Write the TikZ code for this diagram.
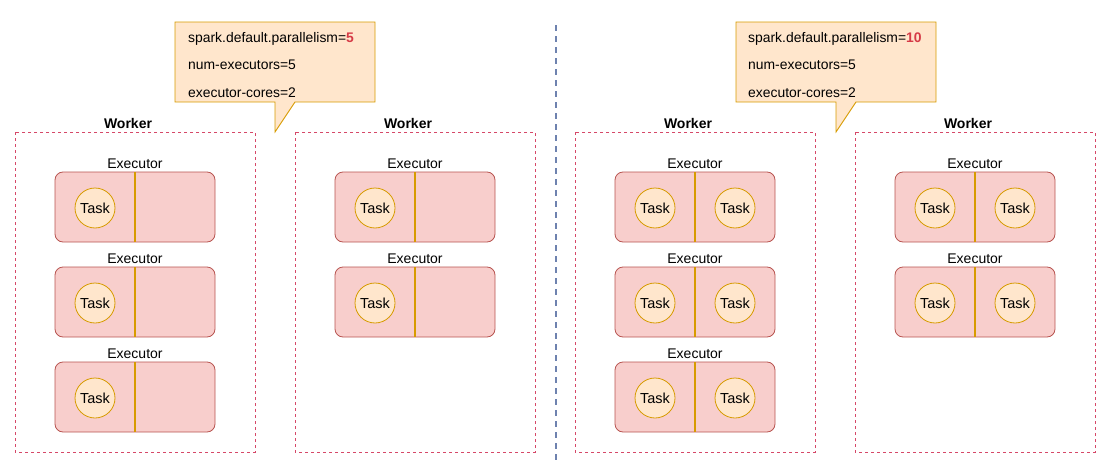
\documentclass[tikz,border=0pt]{standalone}
\usepackage{fontspec}
\setmainfont{Liberation Sans}
\definecolor{calloutfill}{HTML}{FFE6CC}
\definecolor{calloutdraw}{HTML}{D79B00}
\definecolor{execfill}{HTML}{F8CECC}
\definecolor{execdraw}{HTML}{B85450}
\definecolor{workerdraw}{RGB}{214,72,104}
\definecolor{sepdraw}{RGB}{110,130,175}
\definecolor{hilite}{RGB}{214,58,70}
\begin{document}
\begin{tikzpicture}[x=1pt,y=-1pt,
  workerbox/.style={draw=workerdraw,line width=0.9pt,dash pattern=on 3pt off 3pt},
  workerlabel/.style={font=\fontsize{14}{16}\selectfont\bfseries,anchor=base},
  execbox/.style={draw=execdraw,fill=execfill,line width=0.8pt,rounded corners=8pt},
  execlabel/.style={font=\fontsize{14}{16}\selectfont,anchor=base},
  divider/.style={draw=calloutdraw,line width=1.6pt},
  task/.style={circle,draw=calloutdraw,fill=calloutfill,line width=0.8pt,minimum size=40pt,inner sep=0pt,font=\fontsize{14.5}{16}\selectfont},
  callout/.style={draw=calloutdraw,fill=calloutfill,line width=0.9pt,line join=miter},
  cotext/.style={font=\fontsize{13.9}{16}\selectfont,anchor=base west,inner sep=0pt}
]
\useasboundingbox (0,0) rectangle (1112,471);

% separator
\draw[sepdraw,line width=1.2pt,dash pattern=on 6pt off 5pt] (556,25) -- (556,462);

% callouts
\draw[callout] (175,22) -- (375,22) -- (375,102) -- (295,102) -- (275,132) -- (275,102) -- (175,102) -- cycle;
\node[cotext] (c1a) at (188,42) {spark.default.parallelism=\textcolor{hilite}{\bfseries 5}};
\node[cotext] (c1b) at (188,69) {num-executors=5};
\node[cotext] (c1c) at (188,97) {executor-cores=2};

\draw[callout] (736,22) -- (936,22) -- (936,102) -- (856,102) -- (836,132) -- (836,102) -- (736,102) -- cycle;
\node[cotext] (c2a) at (748,42) {spark.default.parallelism=\textcolor{hilite}{\bfseries 10}};
\node[cotext] (c2b) at (748,69) {num-executors=5};
\node[cotext] (c2c) at (748,97) {executor-cores=2};

% workers
\foreach \wx/\name in {15/w1,295/w2,575/w3,855/w4}{
  \draw[workerbox] (\wx,132) rectangle ++(240,320);
  \node[workerlabel] (\name) at (\wx+113,128) {Worker};
}

% executors: \ex = left x, \ey = top y, \two = 1 if two tasks
\foreach \ex/\ey/\two/\id in {55/172/0/a1,55/267/0/a2,55/362/0/a3,
                              335/172/0/b1,335/267/0/b2,
                              615/172/1/c1,615/267/1/c2,615/362/1/c3,
                              895/172/1/d1,895/267/1/d2}{
  \node[execlabel] (lab\id) at (\ex+80,\ey-4) {Executor};
  \draw[execbox] (\ex,\ey) rectangle ++(160,70);
  \draw[divider] (\ex+80,\ey) -- (\ex+80,\ey+70);
  \node[task] (t\id) at (\ex+40,\ey+36) {Task};
  \ifnum\two=1
    \node[task] (u\id) at (\ex+120,\ey+36) {Task};
  \fi
}
\end{tikzpicture}
\end{document}
